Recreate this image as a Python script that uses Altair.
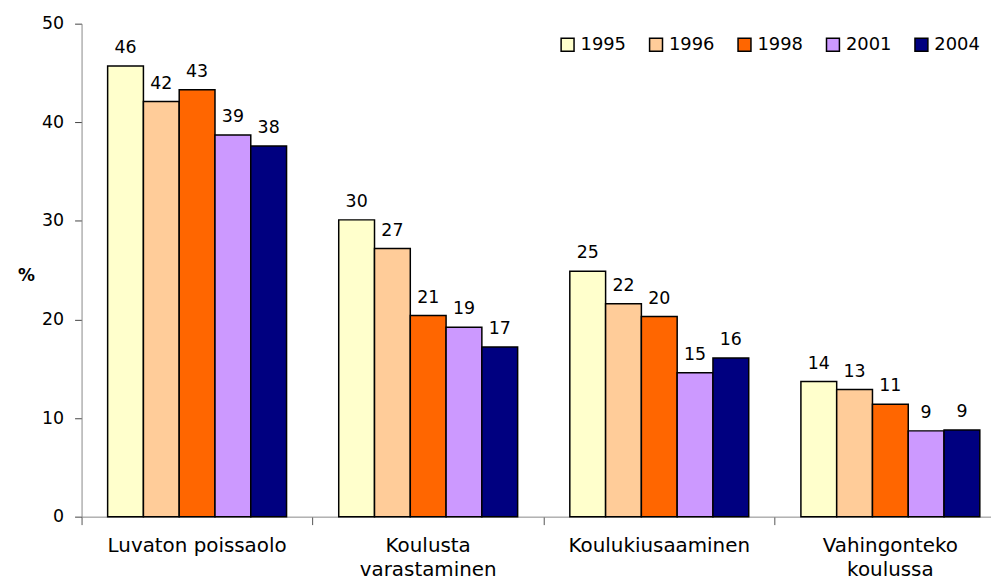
import altair as alt
import pandas as pd

categories = ["Luvaton poissaolo", "Koulusta varastaminen", "Koulukiusaaminen", "Vahingonteko koulussa"]
years = ["1995", "1996", "1998", "2001", "2004"]
colors = ["#FFFFCC", "#FFCC99", "#FF6600", "#CC99FF", "#000080"]

v1995 = [45.7, 30.1, 24.9, 13.7]
v1996 = [42.1, 27.2, 21.6, 12.9]
v1998 = [43.3, 20.4, 20.3, 11.4]
v2001 = [38.7, 19.2, 14.6, 8.7]
v2004 = [37.6, 17.2, 16.1, 8.8]

l1995 = [46, 30, 25, 14]
l1996 = [42, 27, 22, 13]
l1998 = [43, 21, 20, 11]
l2001 = [39, 19, 15, 9]
l2004 = [38, 17, 16, 9]

rows = []
for yr, vals, labs in zip(years, [v1995, v1996, v1998, v2001, v2004],
                          [l1995, l1996, l1998, l2001, l2004]):
    for c, v, l in zip(categories, vals, labs):
        rows.append({"cat": c, "year": yr, "value": v, "label": str(l)})
df = pd.DataFrame(rows)

FONT = "DejaVu Sans"

xscale = alt.Scale(domain=categories, paddingInner=0, paddingOuter=0)
xoff = alt.XOffset("year:N", scale=alt.Scale(domain=years, paddingInner=0, paddingOuter=0.729))
yscale = alt.Scale(domain=[0, 50], nice=False)

base = alt.Chart(df)

bars = base.mark_bar(stroke="black", strokeWidth=1.5).encode(
    x=alt.X("cat:N", scale=xscale, sort=categories,
            axis=alt.Axis(title=None, orient="bottom", labels=False, ticks=True, tickSize=8,
                          tickColor="#555555", bandPosition=0, domain=True,
                          domainColor="#888888", grid=False)),
    xOffset=xoff,
    y=alt.Y("value:Q", scale=yscale,
            axis=alt.Axis(title="%", values=[0, 10, 20, 30, 40, 50], grid=False,
                          tickSize=7, tickColor="#444444", domainColor="#888888",
                          labelFont=FONT, labelFontSize=17.5, labelColor="black", labelPadding=11,
                          titleAngle=0, titleX=-56, titleY=253, titleAlign="center",
                          titleBaseline="middle", titleFont=FONT, titleFontSize=17,
                          titleFontWeight="bold", titleColor="black")),
    color=alt.Color("year:N", scale=alt.Scale(domain=years, range=colors),
                    legend=alt.Legend(title=None, orient="none", legendX=480, legendY=12,
                                      direction="horizontal", columns=5, symbolType="square",
                                      symbolSize=169, symbolStrokeColor="black",
                                      symbolStrokeWidth=1.5, labelFont=FONT, labelFontSize=18,
                                      labelColor="black", labelOffset=4, columnPadding=20,
                                      padding=0)),
)

text = base.mark_text(baseline="bottom", dy=-9, font=FONT, fontSize=17.5, color="black").encode(
    x=alt.X("cat:N", scale=xscale, sort=categories,
            axis=alt.Axis(title=None, orient="bottom", ticks=False, domain=False, grid=False,
                          labelFont=FONT, labelFontSize=20, labelColor="black",
                          labelPadding=19, labelAngle=0, labelLineHeight=24, labelLimit=400,
                          labelExpr="datum.label == 'Luvaton poissaolo' || datum.label == 'Koulukiusaaminen' ? datum.label : split(datum.label, ' ')")),
    xOffset=xoff,
    y=alt.Y("value:Q", scale=yscale),
    text="label:N",
)

chart = alt.layer(bars, text).resolve_axis(x="independent").properties(
    width=930, height=496,
    autosize=alt.AutoSizeParams(type="none"),
    padding={"left": 74, "top": 14, "right": -15, "bottom": 66},
).configure_view(stroke=None).configure_axis(labelFlush=False)

chart.save("out.html", embed_options={"renderer": "svg", "actions": False})
